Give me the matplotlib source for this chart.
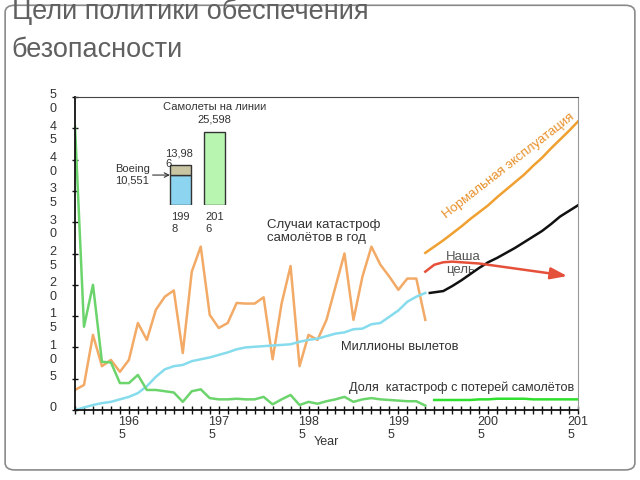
import matplotlib
matplotlib.use("Agg")
import matplotlib.pyplot as plt
from matplotlib.patches import FancyBboxPatch

plt.rcParams['font.family'] = ['Liberation Sans', 'DejaVu Sans']

# historical data, 1959-1998
years = list(range(1959, 1999))
accidents = [3.2, 4.0, 12.0, 7.0, 8.0, 6.1, 8.0, 13.9, 11.2, 16.0,
             18.1, 19.1, 9.1, 22.1, 26.1, 15.2, 13.1, 13.9, 17.1, 17.0,
             17.0, 18.0, 8.1, 17.0, 23.0, 7.0, 12.0, 11.2, 14.4, 19.7,
             25.0, 14.4, 21.3, 26.1, 23.2, 21.3, 19.2, 21.0, 21.0, 14.4]
departures = [0.0, 0.4, 0.8, 1.1, 1.3, 1.7, 2.1, 2.7, 3.8, 5.3,
              6.5, 7.0, 7.2, 7.8, 8.1, 8.4, 8.8, 9.2, 9.7, 10.0,
              10.1, 10.2, 10.3, 10.4, 10.5, 10.9, 11.2, 11.4, 11.8, 12.2,
              12.4, 12.9, 13.0, 13.7, 13.9, 14.9, 15.9, 17.3, 18.1, 18.7]
hull_loss = [45.3, 13.3, 20.0, 7.7, 7.6, 4.3, 4.3, 5.6, 3.2, 3.2,
             3.0, 2.8, 1.3, 3.0, 3.3, 1.9, 1.7, 1.7, 1.8, 1.7,
             1.7, 2.1, 0.9, 1.7, 2.4, 0.8, 1.3, 1.0, 1.4, 1.7,
             2.1, 1.3, 1.7, 1.9, 1.7, 1.6, 1.5, 1.4, 1.4, 0.7]

# projections
proj_years = list(range(1998, 2016))
normal_ops = [25.1, 26.1, 27.1, 28.2, 29.3, 30.5, 31.6, 32.7, 34.0, 35.2,
              36.4, 37.6, 39.0, 40.3, 41.8, 43.2, 44.6, 46.1]
dep_years = [1998.5] + list(range(1999, 2016))
dep_proj = [18.7, 18.8, 19.0, 19.8, 20.7, 21.7, 22.7, 23.6, 24.3, 25.1,
            25.9, 26.8, 27.7, 28.6, 29.7, 30.9, 31.8, 32.7]
goal_years = list(range(1998, 2013)) + [2013.8]
goal = [22.1, 23.2, 23.6, 23.7, 23.6, 23.5, 23.4, 23.2, 23.0, 22.8,
        22.6, 22.4, 22.2, 22.0, 21.8, 21.4]
loss_years = list(range(1999, 2016))
loss_proj = [1.6, 1.6, 1.6, 1.6, 1.6, 1.7, 1.7, 1.8, 1.8, 1.8,
             1.8, 1.7, 1.7, 1.7, 1.7, 1.7, 1.7]

# fleet inset
fleet_labels = ['199\n8', '201\n6']
fleet_boeing = 10551
fleet_1998 = 13986
fleet_2016 = 25598

ytick_vals = list(range(0, 55, 5))
xlabel_years = [1965, 1975, 1985, 1995, 2005, 2015]

fig = plt.figure(figsize=(6.4, 4.8), dpi=100)

frame = FancyBboxPatch((0.008, 0.021), 0.984, 0.968, boxstyle="round,pad=0,rounding_size=0.015",
                       transform=fig.transFigure, fill=False, edgecolor='#8a8a8a', linewidth=1.2)
fig.patches.append(frame)

fig.text(0.018, 1 - 19 / 480, "Цели политики обеспечения", fontsize=19.5, color='#606060',
         va='baseline')
fig.text(0.018, 1 - 57 / 480, "безопасности", fontsize=19.5, color='#606060',
         va='baseline')

ax = fig.add_axes([75 / 640, 1 - 410 / 480, 503 / 640, 313 / 480])
ax.set_xlim(1959, 2015)
ax.set_ylim(0, 50)

ax.plot(years, accidents, color='#f2aa66', lw=1.8)
ax.plot(years, departures, color='#86dced', lw=1.8)
ax.plot(years, hull_loss, color='#6cd46c', lw=1.8)

ax.plot(proj_years, normal_ops, color='#f0a030', lw=1.8)
ax.plot(dep_years, dep_proj, color='#111111', lw=1.8)
ax.plot(loss_years, loss_proj, color='#2fe02f', lw=1.8)
ax.plot(goal_years[:-1], goal[:-1], color='#e5503a', lw=1.8)
ax.annotate('', xy=(goal_years[-1], goal[-1]), xytext=(goal_years[-2], goal[-2]),
            arrowprops=dict(arrowstyle='-|>,head_length=1.0,head_width=0.35',
                            color='#e5503a', lw=1.8, shrinkA=0, shrinkB=0))

# spines and ticks
for s in ['left', 'bottom']:
    ax.spines[s].set_color('#111111')
    ax.spines[s].set_linewidth(1.3)
ax.spines['top'].set_color('#444444')
ax.spines['right'].set_color('#999999')

ax.set_xticks(range(1959, 2016))
ax.set_xticklabels([])
ax.set_yticks(ytick_vals)
ax.set_yticklabels([])
ax.tick_params(axis='x', direction='inout', length=6, width=1, color='#111111')
ax.tick_params(axis='y', direction='inout', length=4, width=1, color='#111111')

for v in ytick_vals:
    lab = str(v)
    if len(lab) > 1:
        lab = lab[0] + '\n' + lab[1]
    ax.annotate(lab, xy=(0, v), xycoords=('axes fraction', 'data'),
                xytext=(-16, 5.5), textcoords='offset points',
                ha='center', va='top', fontsize=9, color='#333333')

for yr in xlabel_years:
    s = str(yr)
    ax.annotate(s[:3] + '\n' + s[3], xy=(yr, 0), xycoords=('data', 'axes fraction'),
                xytext=(0, -4), textcoords='offset points',
                ha='center', va='top', multialignment='left', fontsize=9, color='#333333')

ax.annotate('Year', xy=(0.5, 0), xycoords='axes fraction', xytext=(0, -19),
            textcoords='offset points', ha='center', va='top', fontsize=9, color='#333333')

# text labels
ax.text(1980.4, 30.5, "Случаи катастроф\nсамолётов в год", fontsize=9.5, color='#333333',
        va='top', linespacing=1.15)
ax.text(1988.6, 10.0, "Миллионы вылетов", fontsize=9.3, color='#333333', va='center')
ax.text(1989.5, 3.5, "Доля  катастроф с потерей самолётов", fontsize=9.1,
        color='#333333', va='center')
ax.text(2000.3, 30.5, "Нормальная эксплуатация", fontsize=9.5, color='#e8902a',
        rotation=38, rotation_mode='anchor', ha='left', va='baseline')
ax.text(2000.3, 25.4, "Наша\nцель", fontsize=9.5, color='#555555', va='top',
        linespacing=1.1, zorder=1)

# fleet inset
ins = fig.add_axes([163 / 640, 1 - 205 / 480, 69 / 640, 73.8 / 480])
ins.set_xlim(-0.5, 1.5)
ins.set_ylim(0, 26000)
ins.axis('off')
ins.bar(0, fleet_boeing, width=0.6, color='#8dd4f0', edgecolor='#333333', lw=1)
ins.bar(0, fleet_1998 - fleet_boeing, bottom=fleet_boeing, width=0.6, color='#c9c4a2',
        edgecolor='#333333', lw=1)
ins.bar(1, fleet_2016, width=0.6, color='#b8f5b0', edgecolor='#333333', lw=1)
for i, lab in enumerate(fleet_labels):
    ins.annotate(lab, xy=(i, 0), xytext=(0, -5), textcoords='offset points',
                 ha='center', va='top', multialignment='left', fontsize=8, color='#333333')
ins.annotate(f"{fleet_2016:,}", xy=(1, fleet_2016), xytext=(0, 6), textcoords='offset points',
             ha='center', va='bottom', fontsize=8, color='#333333')
ins.annotate("Самолеты на линии", xy=(1, fleet_2016), xytext=(0, 15), textcoords='offset points',
             ha='center', va='bottom', fontsize=8, color='#333333', annotation_clip=False)
s98 = f"{fleet_1998:,}"
ins.annotate(s98[:5] + '\n' + s98[5:], xy=(0, fleet_1998), xytext=(-11, 12),
             textcoords='offset points', ha='left', va='top', multialignment='left',
             fontsize=8, color='#333333', linespacing=1.0)
ins.annotate(f"Boeing\n{fleet_boeing:,}", xy=(-0.3, fleet_boeing), xytext=(-27, 0),
             textcoords='offset points', ha='center', va='center', fontsize=8,
             color='#333333', annotation_clip=False,
             arrowprops=dict(arrowstyle='->', color='#333333', lw=0.8,
                             shrinkA=14, shrinkB=0, relpos=(1, 0.5)))

fig.savefig('out.png', dpi=100)
